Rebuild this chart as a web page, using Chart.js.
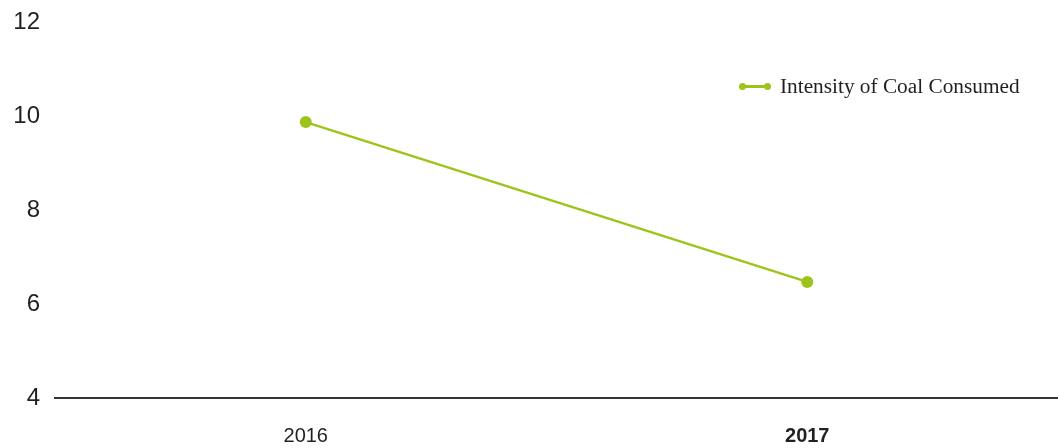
<!DOCTYPE html>
<html>
<head>
<meta charset="utf-8">
<script src="https://cdn.jsdelivr.net/npm/chart.js@4"></script>
<style>
    body { margin: 0; background: #fff; }
    #wrap { position: relative; width: 1058px; height: 448px; overflow: hidden; }
    #legend {
        position: absolute; left: 739px; top: 74px;
        font-family: "Liberation Serif", "Times New Roman", serif;
        font-size: 21.3px; color: #231f20; white-space: nowrap;
        display: flex; align-items: center;
    }
    .mark { position: relative; width: 32px; height: 8px; margin-right: 9px; }
    .mark .ln { position: absolute; left: 3px; right: 3px; top: 2.5px; height: 3px; background: #9dc41b; }
    .mark .dt { position: absolute; top: 0.5px; width: 7px; height: 7px; border-radius: 4px; background: #9dc41b; }
</style>
</head>
<body>
<div id="wrap">
    <canvas id="coalChart"></canvas>
    <div id="legend">
        <span class="mark"><span class="ln"></span><span class="dt" style="left:0"></span><span class="dt" style="right:0"></span></span>
        <span>Intensity of Coal Consumed</span>
    </div>
</div>
<script>
const years = ["2016", "2017"];
const coalIntensity = [9.87, 6.47];
const yTicks = [4, 6, 8, 10, 12];

document.addEventListener("DOMContentLoaded", function () {
    const el = document.getElementById("coalChart");
    el.width = 1058;
    el.height = 448;

    new Chart(el.getContext("2d"), {
        type: "line",
        data: {
            labels: years,
            datasets: [{
                label: "Intensity of Coal Consumed",
                data: coalIntensity,
                borderColor: "#9dc41b",
                backgroundColor: "#9dc41b",
                borderWidth: 2.5,
                pointRadius: 6,
                pointHoverRadius: 6,
                pointBorderWidth: 0,
                tension: 0
            }]
        },
        options: {
            responsive: false,
            animation: false,
            layout: { autoPadding: false, padding: { top: 22, left: 15, right: 0, bottom: 0 } },
            plugins: {
                legend: { display: false },
                tooltip: { enabled: false }
            },
            scales: {
                x: {
                    offset: true,
                    grid: { display: false, drawTicks: false },
                    border: { display: true, color: "#333", width: 2 },
                    afterFit: axis => {
                        axis.height = 50;
                        axis.paddingLeft = 0;
                        axis.paddingRight = 0;
                    },
                    ticks: {
                        padding: 26,
                        color: "#231f20",
                        font: ctx => ({
                            family: "'Liberation Sans', Arial, sans-serif",
                            size: 20,
                            weight: ctx.index === 1 ? "bold" : "normal"
                        })
                    }
                },
                y: {
                    min: yTicks[0],
                    max: yTicks[yTicks.length - 1],
                    afterBuildTicks: axis => { axis.ticks = yTicks.map(v => ({ value: v })); },
                    afterFit: axis => {
                        axis.width = 40;
                        axis.paddingTop = 0;
                        axis.paddingBottom = 0;
                    },
                    grid: { display: false, drawTicks: false },
                    border: { display: false },
                    ticks: {
                        padding: 15,
                        color: "#231f20",
                        font: { family: "'Liberation Sans', Arial, sans-serif", size: 24 }
                    }
                }
            }
        }
    });
});
</script>
</body>
</html>
